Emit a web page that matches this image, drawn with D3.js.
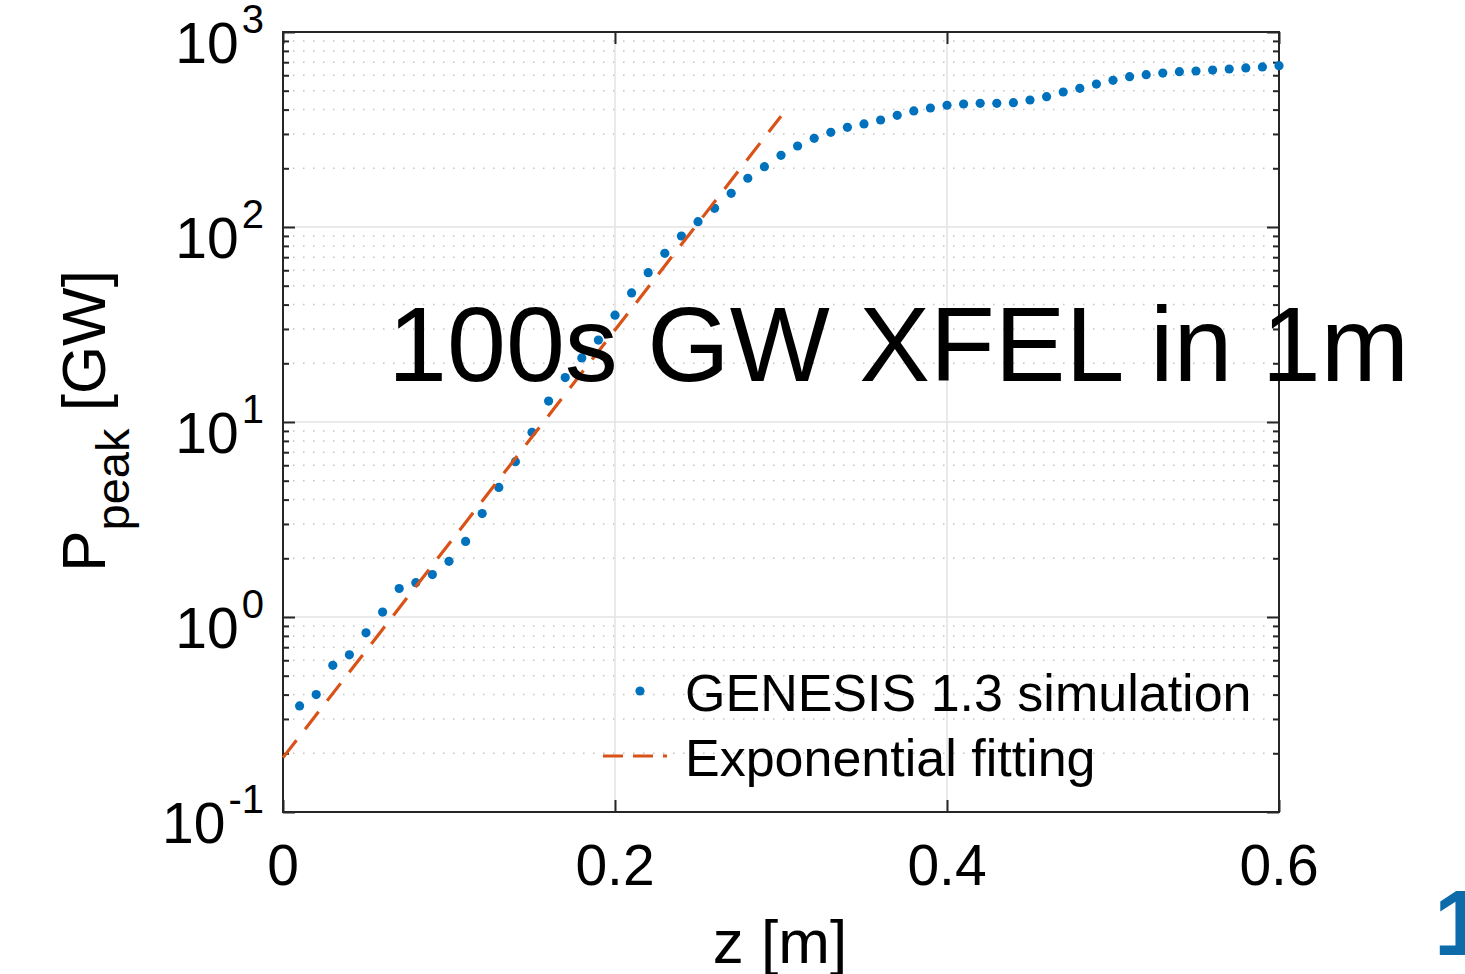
<!DOCTYPE html>
<html>
<head>
<meta charset="utf-8">
<script src="https://d3js.org/d3.v7.min.js"></script>
<style>
  html, body { margin: 0; padding: 0; background: #fff; }
  svg { display: block; }
  text { font-family: "Liberation Sans", Arial, Helvetica, sans-serif; }
</style>
</head>
<body>
<script>
// ---- data ----
const zValues = [0.01,0.02,0.03,0.04,0.05,0.06,0.07,0.08,0.09,0.10,
                 0.11,0.12,0.13,0.14,0.15,0.16,0.17,0.18,0.19,0.20,
                 0.21,0.22,0.23,0.24,0.25,0.26,0.27,0.28,0.29,0.30,
                 0.31,0.32,0.33,0.34,0.35,0.36,0.37,0.38,0.39,0.40,
                 0.41,0.42,0.43,0.44,0.45,0.46,0.47,0.48,0.49,0.50,
                 0.51,0.52,0.53,0.54,0.55,0.56,0.57,0.58,0.59,0.60];
const genesisPower = [0.35,0.40,0.565,0.64,0.83,1.06,1.40,1.50,1.65,1.93,
                      2.44,3.39,4.62,6.26,8.85,12.8,16.9,21.3,26.3,35.3,
                      45.9,58.3,73.3,89.9,106.5,124.7,148.9,177.8,203.9,233.2,
                      260.3,285,306,324.6,337.6,353.7,373.9,393.6,407.6,421,
                      427.4,430.8,430.8,434,448,465.9,492.5,514.5,541,565,
                      590,604,616,626,631,638,646,654,662,672];
const fitZ = [0, 0.30];
const fitPower = [0.19, 370];
const xTicks = [0, 0.2, 0.4, 0.6];
const xTickLabels = ["0", "0.2", "0.4", "0.6"];
const yTickExps = [-1, 0, 1, 2, 3];
const legendLabels = ["GENESIS 1.3 simulation", "Exponential fitting"];
const overlayText = "100s GW XFEL in 1m";

// ---- layout ----
const W = 1465, H = 974;
const L = 283, R = 1279, T = 32, B = 812;
const blue = "#0072BD", orange = "#D95319", axisCol = "#262626";

const svg = d3.select("body").append("svg").attr("width", W).attr("height", H);

const x = d3.scaleLinear().domain([0, 0.6]).range([L, R]);
const y = d3.scaleLog().domain([0.1, 1000]).range([B, T]);

// minor grid (dotted)
const minorVals = [];
for (let e = -1; e < 3; e++) for (let m = 2; m <= 9; m++) minorVals.push(m * Math.pow(10, e));
svg.append("g").selectAll("line").data(minorVals).join("line")
  .attr("x1", L).attr("x2", R)
  .attr("y1", d => y(d)).attr("y2", d => y(d))
  .attr("stroke", "#c4c4c4").attr("stroke-width", 1.5)
  .attr("stroke-dasharray", "1.5,8.5");

// major grid
const majorY = yTickExps.map(e => Math.pow(10, e));
svg.append("g").selectAll("line").data(majorY.slice(1, -1)).join("line")
  .attr("x1", L).attr("x2", R)
  .attr("y1", d => y(d)).attr("y2", d => y(d))
  .attr("stroke", "#e3e3e3").attr("stroke-width", 1.5);
svg.append("g").selectAll("line").data(xTicks.slice(1, -1)).join("line")
  .attr("x1", d => x(d)).attr("x2", d => x(d))
  .attr("y1", T).attr("y2", B)
  .attr("stroke", "#e3e3e3").attr("stroke-width", 1.5);

// axes via d3 (inward ticks)
const gL = svg.append("g").attr("transform", `translate(${L},0)`)
  .call(d3.axisRight(y).tickValues(majorY).tickSize(12).tickFormat(""));
const gR = svg.append("g").attr("transform", `translate(${R},0)`)
  .call(d3.axisLeft(y).tickValues(majorY).tickSize(12).tickFormat(""));
const gLm = svg.append("g").attr("transform", `translate(${L},0)`)
  .call(d3.axisRight(y).tickValues(minorVals).tickSize(6).tickFormat(""));
const gRm = svg.append("g").attr("transform", `translate(${R},0)`)
  .call(d3.axisLeft(y).tickValues(minorVals).tickSize(6).tickFormat(""));
const gB = svg.append("g").attr("transform", `translate(0,${B})`)
  .call(d3.axisTop(x).tickValues(xTicks).tickSize(12).tickFormat(""));
const gT = svg.append("g").attr("transform", `translate(0,${T})`)
  .call(d3.axisBottom(x).tickValues(xTicks).tickSize(12).tickFormat(""));
[gL, gR, gLm, gRm, gB, gT].forEach(g => {
  g.select(".domain").remove();
  g.selectAll("line").attr("stroke", axisCol).attr("stroke-width", 2);
});
svg.append("rect").attr("x", L).attr("y", T).attr("width", R - L).attr("height", B - T)
  .attr("fill", "none").attr("stroke", axisCol).attr("stroke-width", 2);

// y tick labels 10^n
yTickExps.forEach(e => {
  const t = svg.append("text").attr("x", 264).attr("y", y(Math.pow(10, e)) + 31)
    .attr("text-anchor", "end").attr("font-size", 57).attr("fill", "#000");
  t.append("tspan").text("10");
  t.append("tspan").attr("font-size", 40).attr("dy", -30).attr("dx", 3).text(String(e));
});

// x tick labels
svg.append("g").selectAll("text").data(xTicks).join("text")
  .attr("x", d => x(d)).attr("y", 885)
  .attr("text-anchor", "middle").attr("font-size", 57).attr("fill", "#000")
  .text((d, i) => xTickLabels[i]);

// axis labels
svg.append("text").attr("x", 780).attr("y", 963).attr("text-anchor", "middle")
  .attr("font-size", 62).attr("fill", "#000").text("z [m]");
const yl = svg.append("text").attr("transform", "translate(105,421) rotate(-90)")
  .attr("text-anchor", "middle").attr("font-size", 62).attr("fill", "#000");
yl.append("tspan").text("P");
yl.append("tspan").attr("font-size", 47).attr("dy", 24).text("peak");
yl.append("tspan").attr("dy", -24).text("\u00a0[GW]");

// data: dots then fitted line
svg.append("g").selectAll("circle").data(zValues).join("circle")
  .attr("cx", d => x(d)).attr("cy", (d, i) => y(genesisPower[i]))
  .attr("r", 4.6).attr("fill", blue);

const line = d3.line().x(d => x(d[0])).y(d => y(d[1]));
svg.append("path").datum(fitZ.map((z, i) => [z, fitPower[i]]))
  .attr("d", line).attr("fill", "none").attr("stroke", orange)
  .attr("stroke-width", 3.2).attr("stroke-dasharray", "22,14");

// legend
svg.append("circle").attr("cx", 640).attr("cy", 691).attr("r", 4.6).attr("fill", blue);
svg.append("line").attr("x1", 603).attr("x2", 667).attr("y1", 756).attr("y2", 756)
  .attr("stroke", orange).attr("stroke-width", 3.2).attr("stroke-dasharray", "20,10");
svg.append("text").attr("x", 685).attr("y", 711).attr("font-size", 52).attr("fill", "#000").text(legendLabels[0]);
svg.append("text").attr("x", 685).attr("y", 776).attr("font-size", 52).attr("fill", "#000").text(legendLabels[1]);

// overlay annotation
svg.append("text").attr("x", 388).attr("y", 381).attr("font-size", 106).attr("fill", "#000")
  .text(overlayText);

// clipped slide number
svg.append("text").attr("x", 1434).attr("y", 955).attr("font-size", 92).attr("font-weight", "bold")
  .attr("fill", "#0E6BAA").text("1");
</script>
</body>
</html>
